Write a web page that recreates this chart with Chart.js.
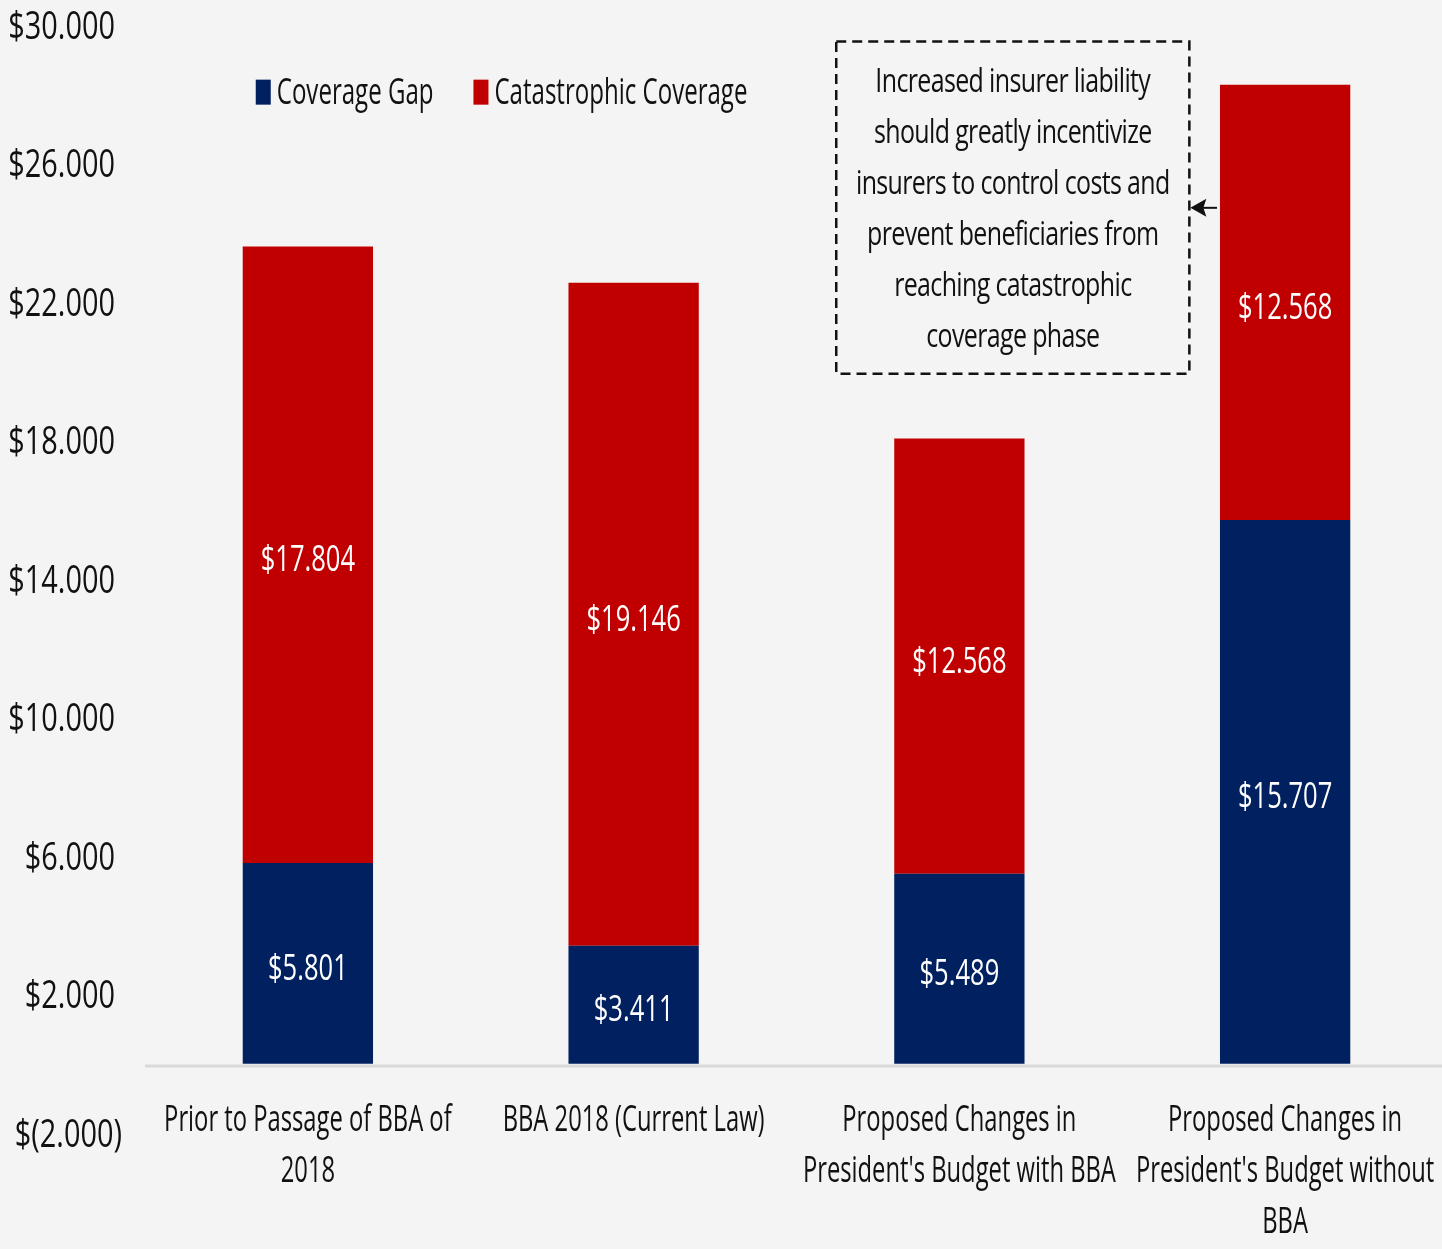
<!DOCTYPE html>
<html>
<head>
<meta charset="utf-8">
<script src="https://cdn.jsdelivr.net/npm/chart.js@4/dist/chart.umd.min.js"></script>
<style>
  html, body { margin:0; padding:0; background:#f4f4f4; overflow:hidden; }
  #wrap { width:1448px; height:1249px; }
</style>
</head>
<body>
<div id="wrap"><canvas id="chart" width="1448" height="1249"></canvas></div>
<script>
const CATEGORIES = [
  ['Prior to Passage of BBA of', '2018'],
  ['BBA 2018 (Current Law)'],
  ['Proposed Changes in', "President's Budget with BBA"],
  ['Proposed Changes in', "President's Budget without", 'BBA']
];
const COVERAGE_GAP = [5801, 3411, 5489, 15707];
const CATASTROPHIC = [17804, 19146, 12568, 12568];
const SERIES_NAMES = ['Coverage Gap', 'Catastrophic Coverage'];
const Y_MIN = -2000, Y_MAX = 30000, Y_STEP = 4000;
const NOTE_LINES = [
  'Increased insurer liability',
  'should greatly incentivize',
  'insurers to control costs and',
  'prevent beneficiaries from',
  'reaching catastrophic',
  'coverage phase'
];

const NAVY = '#002060';
const RED = '#c00000';
const INK = '#111';
const FONT = "'Open Sans', 'Noto Sans', sans-serif";

function fmt(v){ return String(v).replace(/\B(?=(\d{3})+(?!\d))/g, '.'); }
function money(v){ return v < 0 ? '$(' + fmt(-v) + ')' : '$' + fmt(v); }

// the source font is tall and narrow, so squeeze text sideways
function txt(ctx, s, x, y, size, sx, align, color, spacing) {
  ctx.save();
  ctx.translate(x, y);
  ctx.scale(sx, 1);
  ctx.font = size + 'px ' + FONT;
  ctx.fillStyle = color || INK;
  ctx.textAlign = align || 'center';
  ctx.textBaseline = 'alphabetic';
  ctx.letterSpacing = (spacing || 0) + 'px';
  ctx.fillText(s, 0, 0);
  const w = ctx.measureText(s).width * sx;
  ctx.restore();
  return w;
}

// axis labels
const axisLabels = {
  id: 'axisLabels',
  afterDraw(chart) {
    const ctx = chart.ctx, x = chart.scales.x, y = chart.scales.y;
    y.ticks.forEach(t => {
      const py = y.getPixelForValue(t.value) + 13.5;
      txt(ctx, money(t.value), t.value < 0 ? 122 : 115, py, 38, 0.76, 'right');
    });
    const base = y.getPixelForValue(Y_MIN);
    CATEGORIES.forEach((lines, i) => {
      const px = x.getPixelForValue(i);
      lines.forEach((s, k) => txt(ctx, s, px, base - 2 + k * 51, 36, 0.66, 'center'));
    });
  }
};

// white value labels in the middle of each segment
const valueLabels = {
  id: 'valueLabels',
  afterDatasetsDraw(chart) {
    const ctx = chart.ctx;
    chart.data.datasets.forEach((ds, i) => {
      chart.getDatasetMeta(i).data.forEach((bar, j) => {
        const p = bar.getProps(['x', 'y', 'base'], true);
        txt(ctx, '$' + fmt(ds.data[j]), p.x, (p.y + p.base) / 2 + 16.5, 36.5, 0.7, 'center', '#fff');
      });
    });
  }
};

// zero line, legend, dashed note with arrow
const extras = {
  id: 'extras',
  beforeDatasetsDraw(chart) {
    const ctx = chart.ctx, y = chart.scales.y;
    const y0 = Math.round(y.getPixelForValue(0)) + 2;
    ctx.save();
    ctx.strokeStyle = '#d9d9d9';
    ctx.lineWidth = 3;
    ctx.beginPath();
    ctx.moveTo(chart.chartArea.left, y0);
    ctx.lineTo(chart.width, y0);
    ctx.stroke();
    ctx.restore();
  },
  afterDraw(chart) {
    const ctx = chart.ctx, x = chart.scales.x, y = chart.scales.y;

    // legend
    const ly = y.getPixelForValue(28075);
    let lx = x.getPixelForValue(-0.16);
    [NAVY, RED].forEach((c, i) => {
      ctx.fillStyle = c;
      ctx.fillRect(lx, ly - 12, 15, 25);
      const w = txt(ctx, SERIES_NAMES[i], lx + 21, ly + 12, 37, 0.65, 'left');
      lx += 21 + w + 40;
    });

    // note box
    const bx0 = x.getPixelForValue(1.622), bx1 = x.getPixelForValue(2.706);
    const by0 = y.getPixelForValue(29520), by1 = y.getPixelForValue(19930);
    ctx.save();
    ctx.strokeStyle = INK;
    ctx.lineWidth = 2.5;
    ctx.setLineDash([10, 6]);
    ctx.strokeRect(bx0, by0, bx1 - bx0, by1 - by0);
    ctx.restore();
    NOTE_LINES.forEach((s, i) => {
      txt(ctx, s, (bx0 + bx1) / 2, by0 + 50 + i * 51, 32, 0.78, 'center', INK, -0.8);
    });

    // arrow from the last bar to the box
    const bar = chart.getDatasetMeta(1).data[3].getProps(['x', 'width'], true);
    const ay = y.getPixelForValue(24720);
    const tip = bx1 + 1;
    ctx.save();
    ctx.strokeStyle = INK;
    ctx.fillStyle = INK;
    ctx.lineWidth = 2;
    ctx.beginPath();
    ctx.moveTo(bar.x - bar.width / 2 - 3, ay);
    ctx.lineTo(tip + 10, ay);
    ctx.stroke();
    ctx.beginPath();
    ctx.moveTo(tip, ay);
    ctx.lineTo(tip + 16, ay - 9);
    ctx.lineTo(tip + 13, ay);
    ctx.lineTo(tip + 16, ay + 9);
    ctx.closePath();
    ctx.fill();
    ctx.restore();
  }
};

document.addEventListener('DOMContentLoaded', () => {
  const ctx = document.getElementById('chart').getContext('2d');
  new Chart(ctx, {
    type: 'bar',
    data: {
      labels: CATEGORIES,
      datasets: [
        { label: SERIES_NAMES[0], data: COVERAGE_GAP, backgroundColor: NAVY },
        { label: SERIES_NAMES[1], data: CATASTROPHIC, backgroundColor: RED }
      ]
    },
    options: {
      responsive: false,
      animation: false,
      devicePixelRatio: 1,
      layout: { padding: { top: 25, right: 0, bottom: 0, left: 0 } },
      datasets: { bar: { barPercentage: 0.8, categoryPercentage: 0.5 } },
      plugins: { legend: { display: false }, tooltip: { enabled: false } },
      scales: {
        x: {
          stacked: true,
          grid: { display: false, drawTicks: false },
          border: { display: false },
          ticks: { display: false },
          afterFit(s) { s.height = 116; }
        },
        y: {
          stacked: true,
          min: Y_MIN, max: Y_MAX,
          grid: { display: false, drawTicks: false },
          border: { display: false },
          ticks: { display: false, stepSize: Y_STEP },
          afterFit(s) { s.width = 145; }
        }
      }
    },
    plugins: [extras, valueLabels, axisLabels]
  });
});
</script>
</body>
</html>
